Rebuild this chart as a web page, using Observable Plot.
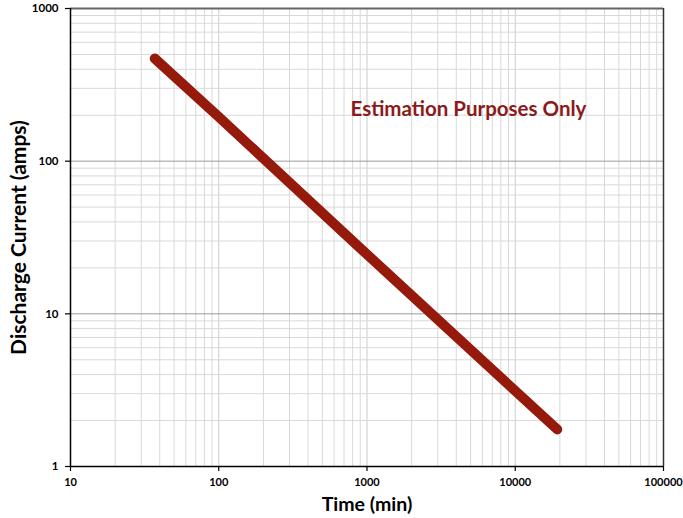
<!DOCTYPE html>
<html><head><meta charset="utf-8">
<script src="https://cdn.jsdelivr.net/npm/d3@7"></script>
<script src="https://cdn.jsdelivr.net/npm/@observablehq/plot@0.6"></script>
<style>body{margin:0;background:#fff}</style>
</head><body><div id="chart"></div>
<script>
const time = [37, 100, 1000, 10000, 19200];
const current = [470, 195, 24.5, 3.13, 1.75];
const xTicks = [10, 100, 1000, 10000, 100000];
const yTicks = [1, 10, 100, 1000];
const xMinor = [20,30,40,50,60,70,80,90,200,300,400,500,600,700,800,900,2000,3000,4000,5000,6000,7000,8000,9000,20000,30000,40000,50000,60000,70000,80000,90000];
const yMinor = [2,3,4,5,6,7,8,9,20,30,40,50,60,70,80,90,200,300,400,500,600,700,800,900];
const annotation = ["Estimation Purposes Only"];
const xTitle = ["Time (min)"];
const yTitle = ["Discharge Current (amps)"];

const data = time.map((t, i) => ({time: t, current: current[i]}));
const font = "Lato, 'Open Sans', sans-serif";

const chart = Plot.plot({
  width: 683,
  height: 518,
  marginLeft: 70,
  marginRight: 20,
  marginTop: 8,
  marginBottom: 52,
  style: {fontFamily: font, background: "#fff", overflow: "visible"},
  x: {type: "log", domain: [10, 100000]},
  y: {type: "log", domain: [1, 1000]},
  marks: [
    Plot.ruleX(xMinor, {stroke: "#d9d9d9", strokeWidth: 1}),
    Plot.ruleX(xTicks.slice(1, -1), {stroke: "#cccccc", strokeWidth: 1}),
    Plot.ruleY(yMinor, {stroke: "#d9d9d9", strokeWidth: 1}),
    Plot.ruleY(yTicks.slice(1, -1), {stroke: "#9a9a9a", strokeWidth: 1}),
    Plot.ruleY([1000], {stroke: "#666", strokeWidth: 2}),
    Plot.ruleX([100000], {stroke: "#333", strokeWidth: 1.5}),
    Plot.ruleX([10], {stroke: "#000", strokeWidth: 1.5}),
    Plot.ruleY([1], {stroke: "#000", strokeWidth: 1.5}),
    Plot.axisX({ticks: xTicks, tickFormat: d3.format("d"), tickSize: 5, tickPadding: 7, fontSize: 11, fontWeight: "bold", label: null, stroke: "#000", strokeWidth: 1.2}),
    Plot.axisY({ticks: yTicks, tickFormat: d3.format("d"), tickSize: 5, tickPadding: 7, fontSize: 11.5, fontWeight: "bold", label: null, stroke: "#000", strokeWidth: 1.2}),
    Plot.line(data, {x: "time", y: "current", stroke: "#951a0c", strokeWidth: 10, strokeLinecap: "round"}),
    Plot.text(annotation, {text: d => d, frameAnchor: "top-left", dx: 280, dy: 107, textAnchor: "start", lineAnchor: "bottom", fontSize: 20.5, fontWeight: "bold", fill: "#8b1a1a"}),
    Plot.text(xTitle, {text: d => d, frameAnchor: "bottom", dy: 44, lineAnchor: "bottom", fontSize: 19.5, fontWeight: "bold", fill: "#000"}),
    Plot.text(yTitle, {text: d => d, frameAnchor: "left", textAnchor: "middle", dx: -45, rotate: -90, lineAnchor: "bottom", fontSize: 21, fontWeight: "bold", fill: "#000"})
  ]
});
document.getElementById("chart").append(chart);
</script>
</body></html>
